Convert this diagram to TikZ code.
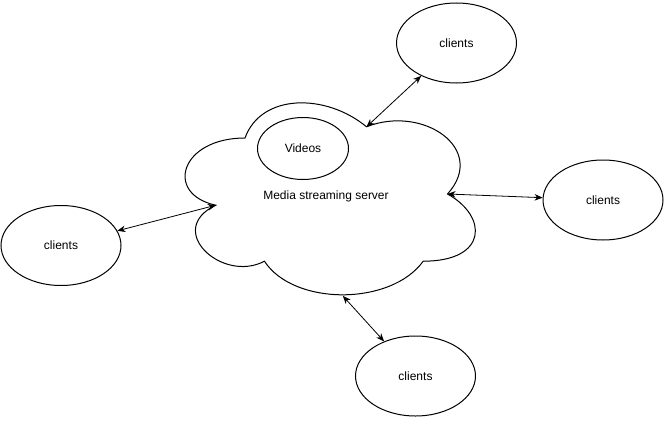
\documentclass[tikz,border=0pt]{standalone}
\usepackage{fontspec}
\setmainfont{Liberation Sans}
\usetikzlibrary{arrows.meta,shapes.geometric}

\begin{document}
\begin{tikzpicture}[x=1pt,y=-1pt,line width=1pt,
        font=\fontsize{12}{14}\selectfont,
        client/.style={draw,ellipse,minimum width=120pt,minimum height=80pt,inner sep=0pt},
        store/.style={draw,ellipse,minimum width=91pt,minimum height=62pt,inner sep=0pt},
        link/.style={line width=0.8pt,{Stealth[length=8pt,width=6.5pt,inset=2.5pt]}-{Stealth[length=8pt,width=6.5pt,inset=2.5pt]}}]
            \useasboundingbox (0,0) rectangle (669,423);

            % the cloud
            \begin{scope}[shift={(164pt,-82pt)},x=324pt,y=-224pt]
                \draw (0.25,0.25) .. controls (0.05,0.25) and (0,0.5) .. (0.16,0.55)
                    .. controls (0,0.66) and (0.18,0.9) .. (0.31,0.8)
                    .. controls (0.4,1) and (0.7,1) .. (0.8,0.8)
                    .. controls (1,0.8) and (1,0.6) .. (0.875,0.5)
                    .. controls (1,0.3) and (0.8,0.1) .. (0.625,0.2)
                    .. controls (0.5,0.05) and (0.3,0.05) .. (0.25,0.25) -- cycle;
                \coordinate (cT) at (0.625,0.2);
                \coordinate (cR) at (0.875,0.5);
                \coordinate (cL) at (0.16,0.55);
                \coordinate (cB) at (0.552,0.955);
            \end{scope}

            \node[store] (videos) at (303,148.5) {Videos};
            \node (server) at (326,196) {Media streaming server};

            \node[client] (ctop) at (456.5,43) {clients};
            \node[client] (cright) at (603,200) {clients};
            \node[client] (cleft) at (61,245.5) {clients};
            \node[client] (cbottom) at (415.5,376) {clients};

            \draw[link] (cT) -- (ctop);
            \draw[link] (cR) -- (cright);
            \draw[link] (cleft) -- (cL);
            \draw[link] (cB) -- (cbottom);
        \end{tikzpicture}
\end{document}
